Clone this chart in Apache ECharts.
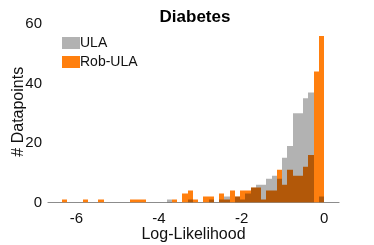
<!DOCTYPE html>
<html><head><meta charset="utf-8">
<script src="https://cdn.jsdelivr.net/npm/echarts@6/dist/echarts.min.js"></script>
<style>html,body{margin:0;padding:0;background:#fff}#c{width:374px;height:245px}</style>
</head><body><div id="c"></div>
<script>
// Histogram bins (shared by both series)
const binStart = -6.36;
const binWidth = 0.1272;
const binCount = 50;
// counts per bin, left to right
const robUlaCounts = [1,0,0,0,1,0,0,1,0,0, 0,0,0,1,1,1,0,0,0,0, 0,1,0,3,4,1,0,2,2,0, 3,1,4,2,4,4,5,5,1,4, 4,11,6,11,9,9,12,16,44,56];
const ulaCounts    = [0,0,0,0,0,0,0,0,0,0, 0,0,0,0,0,0,0,0,0,0, 1,0,0,0,1,0,0,0,1,0, 1,2,0,2,1,3,5,6,6,8, 9,8,15,19,30,30,35,37,0,2];
const xTickLabels = [-6,-4,-2,0];
const yTickLabels = [0,20,40,60];

function toData(counts){
  const out=[];
  for(let i=0;i<binCount;i++){
    const x0 = binStart + i*binWidth;
    out.push([x0, x0+binWidth, counts[i]]);
  }
  return out;
}
function renderBar(params, api){
  const c = api.value(2);
  if(!c) return null;
  const p0 = api.coord([api.value(0), c]);
  const p1 = api.coord([api.value(1), 0]);
  const xa = Math.round(p0[0]), xb = Math.round(p1[0]);
  return {type:'rect', shape:{x:xa, y:p0[1], width:xb-xa, height:p1[1]-p0[1]},
    style:{fill: api.visual('color')}};
}
const FONT = '"Liberation Sans", Arial, sans-serif';
const chart = echarts.init(document.getElementById('c'), null, {renderer:'canvas'});
chart.setOption({
  animation:false,
  tooltip:{show:false},
  title:{text:'Diabetes', left:190, textAlign:'center', top:4,
    textStyle:{fontFamily:FONT, fontSize:17, fontWeight:'bold', color:'#000'}},
  legend:{orient:'vertical', left:57, top:31, itemWidth:18, itemHeight:12, itemGap:5, icon:'rect',
    data:['ULA','Rob-ULA'],
    textStyle:{fontFamily:FONT, fontSize:14, color:'#111', padding:[0,0,0,-5], lineHeight:12}},
  grid:{left:48, right:35, top:21, bottom:42.5, outerBoundsMode:'none', containLabel:false},
  xAxis:{type:'value', min:-6.69, max:0.36,
    name:'Log-Likelihood', nameLocation:'middle', nameGap:24, nameMoveOverlap:false,
    nameTextStyle:{fontFamily:FONT, fontSize:16, color:'#111'},
    splitLine:{show:false},
    axisLine:{show:true, lineStyle:{color:'#8c8c8c', width:1.2}},
    axisTick:{show:false},
    axisLabel:{customValues:xTickLabels, fontFamily:FONT, fontSize:15, color:'#111', margin:9}},
  yAxis:{type:'value', min:0, max:61, interval:20,
    name:'# Datapoints', nameLocation:'middle', nameGap:21, nameMoveOverlap:false,
    nameTextStyle:{fontFamily:FONT, fontSize:16, color:'#111'},
    splitLine:{show:false},
    axisLine:{show:false},
    axisTick:{show:false},
    axisLabel:{customValues:yTickLabels, fontFamily:FONT, fontSize:15, color:'#111', margin:6}},
  series:[
    {name:'Rob-ULA', type:'custom', renderItem:renderBar, color:'#ff7f0e', clip:true,
      encode:{x:[0,1], y:2}, data:toData(robUlaCounts)},
    {name:'ULA', type:'custom', renderItem:renderBar, color:'rgba(0,0,0,0.3)', clip:true,
      encode:{x:[0,1], y:2}, data:toData(ulaCounts)}
  ]
});
</script></body></html>
